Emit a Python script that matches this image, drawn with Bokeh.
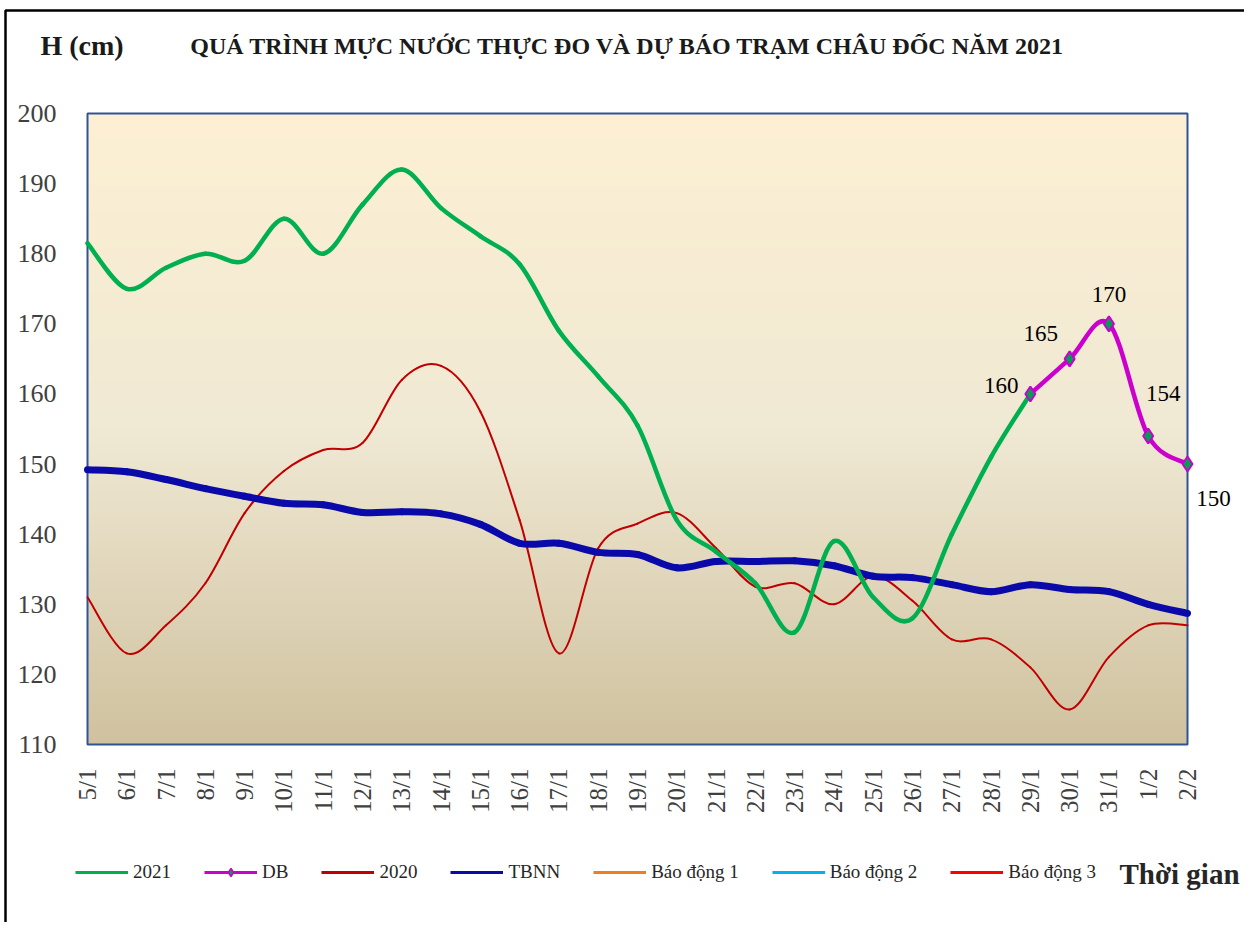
import math
import numpy as np
from bokeh.plotting import figure
from bokeh.models import (ColumnDataSource, FixedTicker, Legend, LegendItem,
                          Label, LabelSet, Range1d)
from bokeh.embed import file_html
from bokeh.resources import INLINE

# ---------------- data ----------------
dates = ["5/1", "6/1", "7/1", "8/1", "9/1", "10/1", "11/1", "12/1", "13/1", "14/1",
         "15/1", "16/1", "17/1", "18/1", "19/1", "20/1", "21/1", "22/1", "23/1", "24/1",
         "25/1", "26/1", "27/1", "28/1", "29/1", "30/1", "31/1", "1/2", "2/2"]
h2021 = [181.5, 175, 178, 180, 179, 185, 180, 187, 192, 186.5, 182.5, 178.5, 169, 162.5,
         155.5, 142, 137.5, 133, 126, 139, 131, 128, 140, 151, 160]
db = [160, 165, 170, 154, 150]
db_start = 24  # index of 29/1
h2020 = [131, 123, 127, 133, 143, 149, 152, 153, 162, 164, 157.5, 142, 123, 138, 141.5,
         143, 138, 132.5, 133, 130, 134, 130.5, 125, 125, 121, 115, 122.5, 127, 127]
tbnn = [149.2, 148.9, 147.8, 146.5, 145.4, 144.4, 144.2, 143.1, 143.2, 142.9, 141.4, 138.7,
        138.7, 137.4, 137.1, 135.2, 136.1, 136.1, 136.2, 135.5, 134, 133.8, 132.8, 131.8,
        132.8, 132.1, 131.8, 130, 128.7]
alarm_levels = [350, 400, 450]   # Báo động 1, 2, 3 (outside the visible range)
y_ticks = [110, 120, 130, 140, 150, 160, 170, 180, 190, 200]
y_lo, y_hi = 110, 200

idx = list(range(len(dates)))
n = len(dates) - 1

FONT = "Liberation Serif"

# ---------------- layout (pixels on the page) ----------------
W, H = 1246, 922
O = 2                                  # page offset of the canvas
PL, PR, PT, PB = 87, 1187, 113, 744    # plot area edges on the page
kx = (PR - PL) / n                     # px per category
ky = (PB - PT) / (y_hi - y_lo)         # px per cm
x0 = -(PL - O) / kx
x1 = x0 + W / kx
y1 = y_hi + (PT - O) / ky
y0 = y1 - H / ky


def sx(px):
    return px - O


def sy(py):
    return H - (py - O)


def xd(px):
    return x0 + (px - O) / kx


def yd(py):
    return y1 - (py - O) / ky


def smooth_source(xs, ys, t=1 / 6):
    """Cubic Bezier segments through the data points (spreadsheet-style smooth line)."""
    m = len(xs)
    d = dict(x0=[], y0=[], x1=[], y1=[], cx0=[], cy0=[], cx1=[], cy1=[])
    for i in range(m - 1):
        a = max(i - 1, 0)
        b = min(i + 2, m - 1)
        d["x0"].append(xs[i]); d["y0"].append(ys[i])
        d["x1"].append(xs[i + 1]); d["y1"].append(ys[i + 1])
        d["cx0"].append(xs[i] + (xs[i + 1] - xs[a]) * t)
        d["cy0"].append(ys[i] + (ys[i + 1] - ys[a]) * t)
        d["cx1"].append(xs[i + 1] - (xs[b] - xs[i]) * t)
        d["cy1"].append(ys[i + 1] - (ys[b] - ys[i]) * t)
    return ColumnDataSource(d)


p = figure(width=W, height=H, output_backend="svg", toolbar_location=None, title=None,
           x_range=Range1d(x0, x1), y_range=Range1d(y0, y1), min_border=0)
p.styles = {"border-top": "2px solid transparent", "border-left": "2px solid transparent",
            "border-right": "2px solid transparent"}
p.outline_line_color = None
p.background_fill_color = "white"
p.border_fill_color = "white"
p.xgrid.visible = False
p.ygrid.visible = False

# outer frame of the picture (decoration)
p.quad(left=[xd(5)], right=[xd(1246)], top=[yd(10)], bottom=[yd(990)],
       fill_color=None, line_color="black", line_width=2.5)

# gradient plot background
N = 200
stops_t = [0.0, 0.5, 1.0]
stops_c = [(208, 194, 160), (240, 233, 212), (253, 240, 211)]
t = np.linspace(0, 1, N)
rgba = np.zeros((N, 1, 4), dtype=np.uint8)
for k in range(3):
    rgba[:, 0, k] = np.interp(t, stops_t, [c[k] for c in stops_c]).astype(np.uint8)
rgba[:, 0, 3] = 255
img = rgba.view(dtype=np.uint32).reshape((N, 1))
p.image_rgba(image=[img], x=0, y=y_lo, dw=n, dh=y_hi - y_lo, level="image")
p.quad(left=[0], right=[n], bottom=[y_lo], top=[y_hi], fill_color=None,
       line_color="#2F5496", line_width=2)

# axes (drawn at the plot-area edges)
p.yaxis.fixed_location = 0
p.yaxis.ticker = FixedTicker(ticks=y_ticks)
p.yaxis.axis_line_color = None
p.yaxis.major_tick_line_color = None
p.yaxis.minor_tick_line_color = None
p.yaxis.major_label_standoff = 25
p.yaxis.major_label_text_font = FONT
p.yaxis.major_label_text_font_size = "26px"
p.yaxis.major_label_text_color = "#404040"

p.xaxis.fixed_location = y_lo
p.xaxis.ticker = FixedTicker(ticks=idx)
p.xaxis.major_label_overrides = {i: d for i, d in enumerate(dates)}
p.xaxis.major_label_orientation = math.pi / 2
p.xaxis.axis_line_color = None
p.xaxis.major_tick_line_color = None
p.xaxis.minor_tick_line_color = None
p.xaxis.major_label_standoff = 18
p.xaxis.major_label_text_font = FONT
p.xaxis.major_label_text_font_size = "25px"
p.xaxis.major_label_text_color = "#404040"

# series (smoothed lines)
BZ = ["x0", "y0", "x1", "y1", "cx0", "cy0", "cx1", "cy1"]
bz = dict(zip(BZ, BZ))
p.bezier(source=smooth_source(idx, h2020), line_color="#C00000", line_width=2,
         line_cap="round", **bz)
p.bezier(source=smooth_source(idx, tbnn), line_color="#0A0AAA", line_width=7,
         line_cap="round", **bz)
p.bezier(source=smooth_source(idx[:len(h2021)], h2021), line_color="#00B050",
         line_width=4.5, line_cap="round", **bz)
db_x = idx[db_start:db_start + len(db)]
p.bezier(source=smooth_source(db_x, db), line_color="#CC00CC", line_width=4.5,
         line_cap="round", **bz)
p.scatter(db_x, db, marker="diamond", size=15, fill_color="#00A050",
          line_color="#CC00CC", line_width=2)
alarm_colors = ["#F07D1E", "#00B0F0", "#FF0000"]
ka = [p.line(idx, [lv] * len(idx), line_color=c, line_width=3)
      for lv, c in zip(alarm_levels, alarm_colors)]

# DB value labels
lab_src = ColumnDataSource(dict(x=db_x, y=db, txt=[str(v) for v in db],
                                xo=[-29, -29, 0, 15, 26], yo=[8, 25, 29, 43, -34]))
p.add_layout(LabelSet(x="x", y="y", text="txt", source=lab_src, x_offset="xo",
                      y_offset="yo", text_align="center", text_baseline="middle",
                      text_font=FONT, text_font_size="23px", text_color="black"))

# legend keys (hidden renderers of the same series, thin key lines)
k2021 = p.line(idx[:len(h2021)], h2021, line_color="#00B050", line_width=3, visible=False)
kdb = p.line(db_x, db, line_color="#CC00CC", line_width=3, visible=False)
kdbm = p.scatter(db_x, db, marker="diamond", size=9, fill_color="#00A050",
                 line_color="#CC00CC", line_width=1.5, visible=False)
k2020 = p.line(idx, h2020, line_color="#C00000", line_width=3, visible=False)
ktb = p.line(idx, tbnn, line_color="#0A0AAA", line_width=3, visible=False)

items = [LegendItem(label="2021", renderers=[k2021]),
         LegendItem(label="DB", renderers=[kdb, kdbm]),
         LegendItem(label="2020", renderers=[k2020]),
         LegendItem(label="TBNN", renderers=[ktb]),
         LegendItem(label="Báo động 1", renderers=[ka[0]]),
         LegendItem(label="Báo động 2", renderers=[ka[1]]),
         LegendItem(label="Báo động 3", renderers=[ka[2]])]
legend = Legend(items=items, orientation="horizontal", location=(sx(75), sy(883)),
                background_fill_alpha=0, border_line_color=None, padding=0, margin=0,
                label_text_font=FONT, label_text_font_size="19px",
                label_text_color="#262626", glyph_width=53, glyph_height=20,
                label_standoff=5, spacing=33, click_policy="none")
p.add_layout(legend, "center")

# texts
p.add_layout(Label(x=sx(627), y=sy(45), x_units="screen", y_units="screen",
                   text="QUÁ TRÌNH MỰC NƯỚC THỰC ĐO VÀ DỰ BÁO TRẠM CHÂU ĐỐC NĂM 2021",
                   text_align="center", text_baseline="middle", text_font=FONT,
                   text_font_size="24px", text_font_style="bold", text_color="#1a1a1a"))
p.add_layout(Label(x=sx(40), y=sy(45), x_units="screen", y_units="screen", text="H (cm)",
                   text_align="left", text_baseline="middle", text_font=FONT,
                   text_font_size="28px", text_font_style="bold", text_color="#1a1a1a"))
p.add_layout(Label(x=sx(1119), y=sy(873), x_units="screen", y_units="screen",
                   text="Thời gian", text_align="left", text_baseline="middle",
                   text_font=FONT, text_font_size="29px", text_font_style="bold",
                   text_color="#262626"))

open("out.html", "w").write(file_html(p, INLINE))
